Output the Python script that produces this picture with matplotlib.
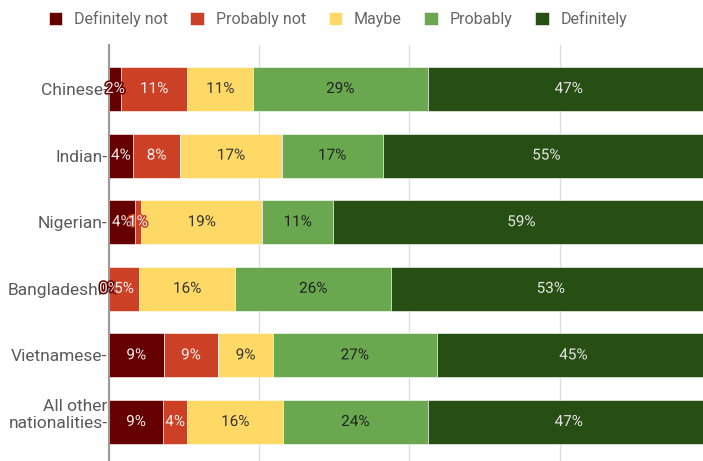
import matplotlib
matplotlib.use("Agg")
import matplotlib.pyplot as plt
import matplotlib.patheffects as pe
import matplotlib.transforms as mtransforms
import numpy as np

plt.rcParams["font.family"] = ["Roboto", "DejaVu Sans"]

groups = ["Chinese", "Indian", "Nigerian", "Bangladeshi", "Vietnamese", "All other\nnationalities"]
answers = ["Definitely not", "Probably not", "Maybe", "Probably", "Definitely"]
definitely_not = [2, 4, 4, 0, 9, 9]
probably_not = [11, 8, 1, 5, 9, 4]
maybe = [11, 17, 19, 16, 9, 16]
probably = [29, 17, 11, 26, 27, 24]
definitely = [47, 55, 59, 53, 45, 47]

colors = ["#660000", "#cc4125", "#ffd966", "#6aa84f", "#274e13"]
text_colors = ["#eeeeee", "#f2f2f2", "#333333", "#222222", "#e4e4e4"]

series = np.array([definitely_not, probably_not, maybe, probably, definitely], dtype=float)
shares = series / series.sum(axis=0) * 100  # bars are drawn as 100% stacked

W, H = 703, 461
fig = plt.figure(figsize=(W / 100, H / 100), dpi=100)
ax = fig.add_axes([109 / W, 0, 601 / W, (H - 45) / H])

y = np.arange(len(groups))
left = np.zeros(len(groups))
for k, name in enumerate(answers):
    ax.barh(y, shares[k], left=left, height=0.66, color=colors[k],
            edgecolor="white", linewidth=0.4, label=name, zorder=3)
    for i in range(len(groups)):
        ax.text(left[i] + shares[k][i] / 2, y[i], f"{int(series[k][i])}%",
                ha="center", va="center", fontsize=11, color=text_colors[k], zorder=5,
                path_effects=[pe.withStroke(linewidth=2.2, foreground=colors[k])])
    left += shares[k]

ax.set_xlim(0, 100)
ax.set_ylim(5.586, -0.66)
ax.set_xticks([0, 25, 50, 75, 100])
ax.xaxis.grid(True, color="#dddddd", linewidth=1, zorder=0)
ax.tick_params(axis="x", length=0, labelbottom=False)
ax.set_yticks(y)
ax.set_yticklabels([g + "-" for g in groups], fontsize=12.5, color="#5a5a5a",
                   linespacing=1.15)
ax.tick_params(axis="y", length=0, pad=1)
for s in ["top", "right", "bottom"]:
    ax.spines[s].set_visible(False)
ax.spines["left"].set_color("#999999")
ax.spines["left"].set_linewidth(1.5)
ax.spines["left"].set_zorder(4)

# last label: keep the second line level with the bar centre
lab = ax.get_yticklabels()[-1]
lab.set_transform(lab.get_transform() + mtransforms.ScaledTranslation(0, 0.095, fig.dpi_scale_trans))

handles, labels = ax.get_legend_handles_labels()
fig.legend(handles, labels, loc="center", bbox_to_anchor=(338 / W, 1 - 19 / H), ncol=5,
           frameon=False, fontsize=11.5, labelcolor="#666666", handlelength=0.85,
           handleheight=0.95, handletextpad=0.75, columnspacing=1.4)

fig.savefig("out.png", dpi=100)
